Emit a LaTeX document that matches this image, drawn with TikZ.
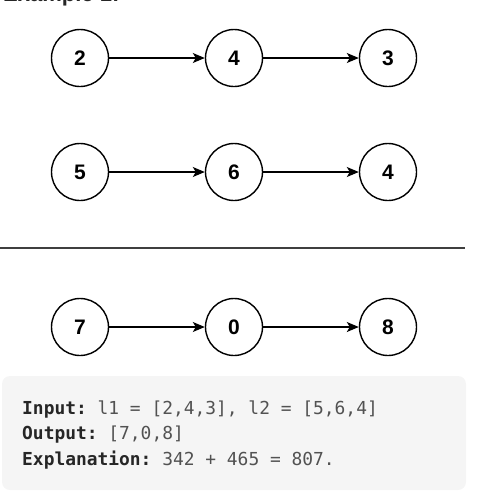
\documentclass[tikz,border=0pt]{standalone}
\usepackage{fontspec}
\setmainfont{Liberation Sans}
\setmonofont{DejaVu Sans Mono}
\usetikzlibrary{arrows.meta}
\definecolor{boxgray}{HTML}{F5F5F5}
\definecolor{codegray}{HTML}{525252}
\definecolor{codedark}{HTML}{262626}
\definecolor{rulegray}{HTML}{3F3F3F}

\begin{document}
\begin{tikzpicture}[x=1pt,y=-1pt,
  digit/.style={draw,circle,line width=1.4pt,minimum size=57pt,inner sep=0pt,
    font=\bfseries\fontsize{21}{21}\selectfont},
  link/.style={-{Stealth[length=12pt,width=10pt,inset=3pt]},line width=1.2pt},
  codeline/.style={anchor=base west,inner sep=0pt,
    font=\ttfamily\fontsize{17.9}{17.9}\selectfont,text=codegray}]
\def\xa{80}
\def\xb{234}
\def\xc{388}
\useasboundingbox (0,0) rectangle (482,491);
\clip (0,0) rectangle (482,491);
  \node[anchor=base west,inner sep=0pt,text=codedark,
    font=\bfseries\fontsize{22}{22}\selectfont] (title) at (3,1.5) {Example 1:};
  % the three lists
  \foreach \r/\y/\a/\b/\c in {1/58/2/4/3, 2/172/5/6/4, 3/327/7/0/8} {
    \node[digit] (n\r a) at (\xa,\y) {\a};
    \node[digit] (n\r b) at (\xb,\y) {\b};
    \node[digit] (n\r c) at (\xc,\y) {\c};
    \draw[link] (n\r a) -- (n\r b);
    \draw[link] (n\r b) -- (n\r c);
  }
  \draw[rulegray,line width=2pt] (0,248) -- (465,248);
  % explanation box
  \fill[boxgray,rounded corners=8pt] (2,376) rectangle (466,490);
  \node[codeline] (input) at (22,414)
    {\textcolor{codedark}{\bfseries Input:} l1 = [2,4,3], l2 = [5,6,4]};
  \node[codeline] (output) at (22,439.5)
    {\textcolor{codedark}{\bfseries Output:} [7,0,8]};
  \node[codeline] (expl) at (22,465)
    {\textcolor{codedark}{\bfseries Explanation:} 342 + 465 = 807.};
\end{tikzpicture}
\end{document}
